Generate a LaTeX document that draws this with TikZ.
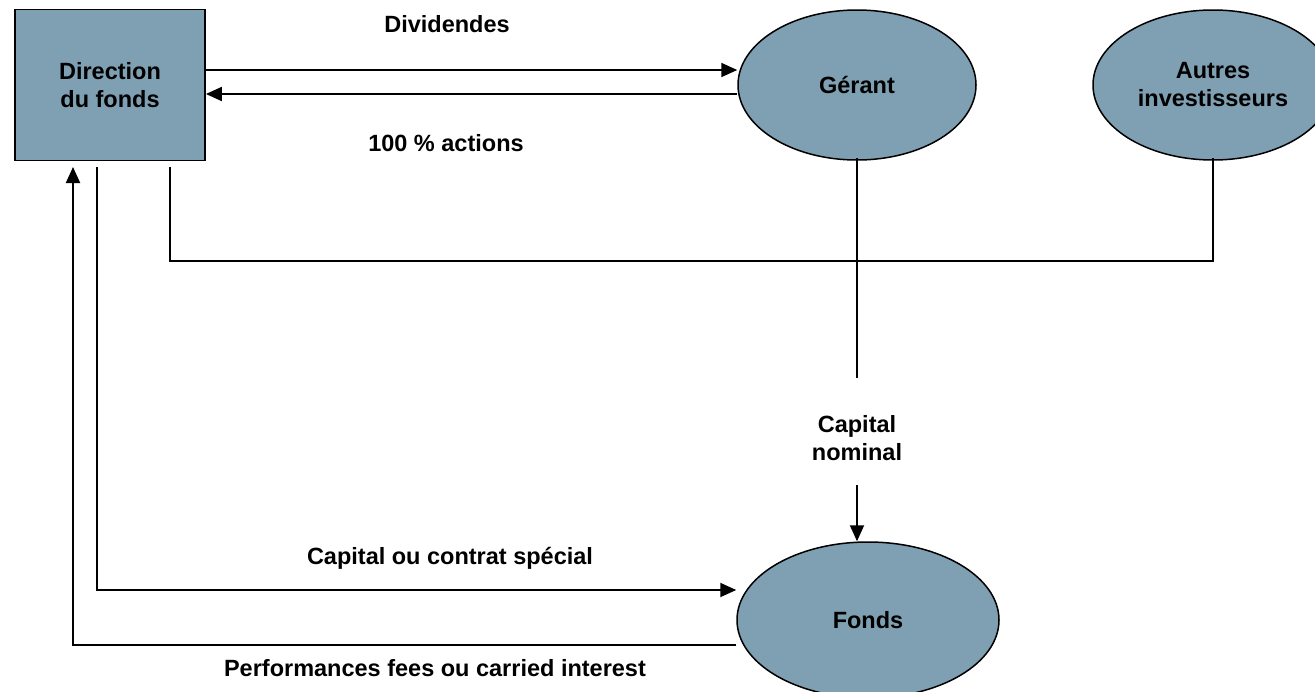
\documentclass[tikz,border=0pt]{standalone}
\usepackage{fontspec}
\setmainfont{Liberation Sans}
\usetikzlibrary{shapes.geometric,arrows.meta}
\definecolor{fillblue}{RGB}{127,160,178}
\begin{document}
\begin{tikzpicture}[x=1pt,y=-1pt,
  every node/.style={font=\fontsize{23.5}{28}\selectfont\bfseries, align=center},
  boxnode/.style={draw, line width=1.8pt, fill=fillblue, minimum width=190pt, minimum height=151pt, inner sep=0pt},
  ovalnode/.style={ellipse, draw, line width=1.5pt, fill=fillblue, inner sep=0pt},
  link/.style={line width=1.9pt},
  arr/.style={link, -{Triangle[length=16pt,width=14pt]}}]
\useasboundingbox (0,0) rectangle (1315,691);
\clip (0,0) rectangle (1315,691);

% parties
\node[boxnode] (dir) at (110,85) {Direction\\du fonds};
\node[ovalnode, minimum width=238pt, minimum height=150pt] (ger) at (857,85) {Gérant};
\node[ovalnode, minimum width=240pt, minimum height=150pt] (aut) at (1213,85) {Autres\\investisseurs};
\node[ovalnode, minimum width=262pt, minimum height=156pt] (fonds) at (868,620) {Fonds};

% flow labels
\node (ldiv) at (447,24) {Dividendes};
\node (lact) at (446,143) {100 \% actions};
\node (lcap) at (857,438) {Capital\\nominal};
\node (lspe) at (450,558) {Capital ou contrat spécial};
\node (lperf) at (435,668) {Performances fees ou carried interest};

% routing levels
\coordinate (y70) at (0,70);
\coordinate (y94) at (0,94);
\coordinate (y590) at (0,590);
\coordinate (y645) at (0,645);
\coordinate (dA) at (73,167);
\coordinate (dB) at (97,167);
\coordinate (dC) at (170,167);
\coordinate (jr) at (1213,261);
\coordinate (gtop) at (857,378);
\coordinate (gbot) at (857,485);

% direction <-> gerant
\draw[arr] (dir.east |- y70) -- (ger.west |- y70);
\draw[arr] (ger.west |- y94) -- (dir.east |- y94);

% direction and autres investisseurs joined
\draw[link] (dC) |- (jr) -- ([yshift=3pt]aut.south);

% gerant -> fonds
\draw[link] ([yshift=3pt]ger.south) -- (gtop);
\draw[arr] (gbot) -- (gbot |- fonds.north);

% direction -> fonds
\draw[arr] (dB) |- (fonds.west |- y590);

% fonds -> direction
\draw[arr] (fonds.west |- y645) -| (dA);
\end{tikzpicture}
\end{document}
